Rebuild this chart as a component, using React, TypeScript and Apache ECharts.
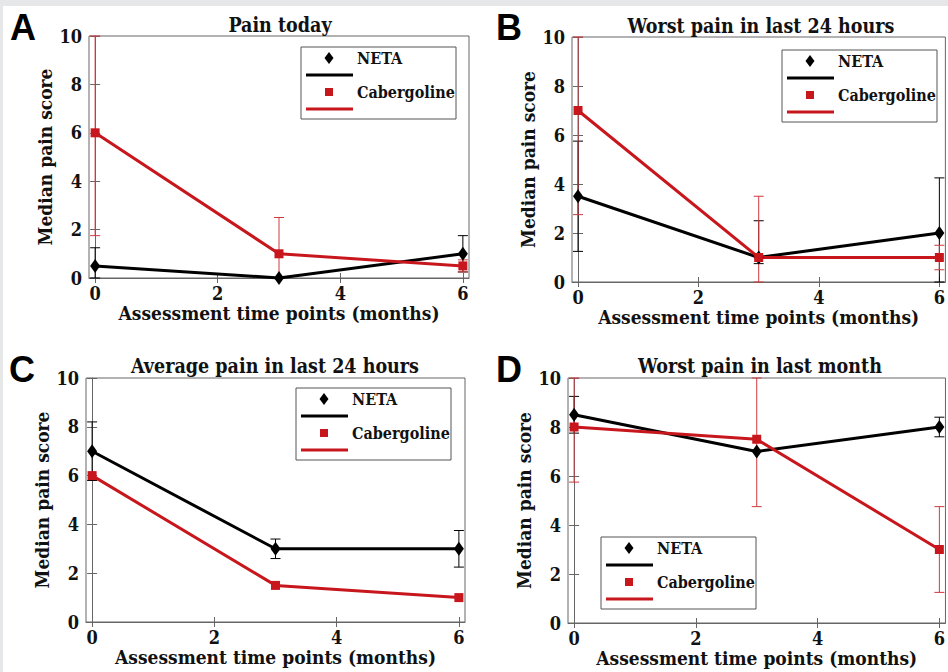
import React, { useEffect, useRef } from "react";
import * as echarts from "echarts";

// ---------- data ----------
const months = [0, 3, 6];
const xTicks = [0, 2, 4, 6];
const panelTitles = [
  "Pain today",
  "Worst pain in last 24 hours",
  "Average pain in last 24 hours",
  "Worst pain in last month",
];
const panelLetters = ["A", "B", "C", "D"];
const seriesNames = ["NETA", "Cabergoline"];
const xAxisName = "Assessment time points (months)";
const yAxisName = "Median pain score";

// Panel A – Pain today
const netaA = [0.5, 0, 1];
const netaALow = [0, null, 0.25];
const netaAHigh = [1.25, null, 1.75];
const cabA = [6, 1, 0.5];
const cabALow = [1.75, 0, 0.25];
const cabAHigh = [10, 2.5, 0.75];

// Panel B – Worst pain in last 24 hours
const netaB = [3.5, 1, 2];
const netaBLow = [1.25, 0.75, 0];
const netaBHigh = [5.75, 2.5, 4.25];
const cabB = [7, 1, 1];
const cabBLow = [2.75, 0, 0.5];
const cabBHigh = [10, 3.5, 1.5];

// Panel C – Average pain in last 24 hours
const netaC = [7, 3, 3];
const netaCLow = [5.8, 2.6, 2.25];
const netaCHigh = [8.2, 3.4, 3.75];
const cabC = [6, 1.5, 1];
const cabCLow = [null, null, null];
const cabCHigh = [null, null, null];

// Panel D – Worst pain in last month
const netaD = [8.5, 7, 8];
const netaDLow = [7.75, null, 7.6];
const netaDHigh = [9.25, null, 8.4];
const cabD = [8, 7.5, 3];
const cabDLow = [5.75, 4.75, 1.25];
const cabDHigh = [10, 10, 4.75];

// ---------- styling / layout ----------
const BLACK = "#000000";
const RED = "#c8161d";
const RED_ERR = "#cf3a3f";
const AXIS = "#666666";
const SERIF = "'DejaVu Serif Condensed', 'DejaVu Serif', serif";

const panelData = [
  { neta: netaA, netaLow: netaALow, netaHigh: netaAHigh, cab: cabA, cabLow: cabALow, cabHigh: cabAHigh },
  { neta: netaB, netaLow: netaBLow, netaHigh: netaBHigh, cab: cabB, cabLow: cabBLow, cabHigh: cabBHigh },
  { neta: netaC, netaLow: netaCLow, netaHigh: netaCHigh, cab: cabC, cabLow: cabCLow, cabHigh: cabCHigh },
  { neta: netaD, netaLow: netaDLow, netaHigh: netaDHigh, cab: cabD, cabLow: cabDLow, cabHigh: cabDHigh },
];

const layout = [
  { grid: { left: 89, top: 36, width: 380, height: 242 }, title: [280, 25], letter: [23, 27], legend: [301, 47] },
  { grid: { left: 572, top: 37, width: 378, height: 245 }, title: [761, 26], letter: [509, 27], legend: [782, 50] },
  { grid: { left: 86, top: 378, width: 379, height: 244 }, title: [275, 366], letter: [22, 369], legend: [296, 388] },
  { grid: { left: 568, top: 378, width: 382, height: 245 }, title: [760, 366], letter: [509, 369], legend: [601, 537] },
];

function errData(low: (number | null)[], high: (number | null)[]) {
  const out: number[][] = [];
  months.forEach((m, i) => {
    const lo = low[i];
    const hi = high[i];
    if (lo !== null && hi !== null) out.push([m, lo, hi]);
  });
  return out;
}

function errSeries(data: number[][], color: string, idx: number) {
  return {
    type: "custom",
    xAxisIndex: idx * 2,
    yAxisIndex: idx * 2,
    clip: false,
    silent: true,
    encode: { x: 0, y: [1, 2] },
    data,
    renderItem: (_params: any, api: any) => {
      const x = api.value(0);
      const lo = api.coord([x, api.value(1)]);
      const hi = api.coord([x, api.value(2)]);
      const w = 5;
      const style = { stroke: color, lineWidth: 1, fill: "none" };
      return {
        type: "group",
        children: [
          { type: "line", shape: { x1: lo[0], y1: lo[1], x2: hi[0], y2: hi[1] }, style },
          { type: "line", shape: { x1: lo[0] - w, y1: lo[1], x2: lo[0] + w, y2: lo[1] }, style },
          { type: "line", shape: { x1: hi[0] - w, y1: hi[1], x2: hi[0] + w, y2: hi[1] }, style },
        ],
      };
    },
  };
}

function lineSeries(name: string, values: number[], color: string, symbol: string, size: any, idx: number) {
  return {
    type: "line",
    name,
    xAxisIndex: idx * 2,
    yAxisIndex: idx * 2,
    clip: false,
    data: months.map((m, i) => [m, values[i]]),
    symbol,
    symbolSize: size,
    showSymbol: true,
    lineStyle: { color, width: 3 },
    itemStyle: { color, borderWidth: 0 },
  };
}

function legendGroup(x0: number, y0: number) {
  const textStyle = { fill: "#111", font: `bold 16px ${SERIF}`, textVerticalAlign: "middle" };
  return {
    type: "group",
    x: x0,
    y: y0,
    z: 100,
    children: [
      { type: "rect", shape: { x: 0, y: 0, width: 155, height: 72 }, style: { fill: "#ffffff", stroke: "#555", lineWidth: 1 } },
      { type: "polygon", shape: { points: [[28, 5], [32.5, 11], [28, 17], [23.5, 11]] }, style: { fill: BLACK } },
      { type: "text", x: 56, y: 11, style: { ...textStyle, text: seriesNames[0] } },
      { type: "line", shape: { x1: 5, y1: 28, x2: 52, y2: 28 }, style: { stroke: BLACK, lineWidth: 3 } },
      { type: "rect", shape: { x: 24, y: 41, width: 8, height: 8 }, style: { fill: RED } },
      { type: "text", x: 56, y: 45, style: { ...textStyle, text: seriesNames[1] } },
      { type: "line", shape: { x1: 5, y1: 62, x2: 52, y2: 62 }, style: { stroke: RED, lineWidth: 3 } },
    ],
  };
}

function buildOption() {
  const grids: any[] = [];
  const xAxes: any[] = [];
  const yAxes: any[] = [];
  const series: any[] = [];
  const graphics: any[] = [
    { type: "rect", shape: { x: 0, y: 0, width: 948, height: 6 }, style: { fill: "#e6e7e9" }, z: -10 },
    { type: "rect", shape: { x: 0, y: 0, width: 3, height: 672 }, style: { fill: "#e6e7e9" }, z: -10 },
  ];

  layout.forEach((l, i) => {
    grids.push({ ...l.grid, show: true, borderColor: AXIS, borderWidth: 1, backgroundColor: "#fff" });
    const labelStyle = { color: "#111", fontFamily: SERIF, fontSize: 18, fontWeight: "bold" };
    const nameStyle = { ...labelStyle, fontSize: 19 };
    xAxes.push({
      type: "value",
      gridIndex: i,
      min: -0.1,
      max: 6.1,
      position: "bottom",
      name: xAxisName,
      nameLocation: "middle",
      nameGap: 25,
      nameTextStyle: nameStyle,
      axisLine: { show: true, lineStyle: { color: AXIS, width: 1 } },
      axisTick: { show: true, inside: true, length: 5, customValues: xTicks, lineStyle: { color: AXIS } },
      axisLabel: { show: true, customValues: xTicks, margin: 6, ...labelStyle },
      splitLine: { show: false },
    });
    xAxes.push({
      type: "value",
      gridIndex: i,
      min: -0.1,
      max: 6.1,
      position: "top",
      axisLine: { show: false },
      axisTick: { show: true, inside: true, length: 5, customValues: xTicks, lineStyle: { color: AXIS } },
      axisLabel: { show: false },
      splitLine: { show: false },
    });
    yAxes.push({
      type: "value",
      gridIndex: i,
      min: 0,
      max: 10,
      interval: 2,
      position: "left",
      name: yAxisName,
      nameLocation: "middle",
      nameGap: 35,
      nameTextStyle: nameStyle,
      axisLine: { show: true, lineStyle: { color: AXIS, width: 1 } },
      axisTick: { show: true, inside: true, length: 5, lineStyle: { color: AXIS } },
      axisLabel: { show: true, margin: 7, ...labelStyle },
      splitLine: { show: false },
    });
    yAxes.push({
      type: "value",
      gridIndex: i,
      min: 0,
      max: 10,
      interval: 2,
      position: "right",
      axisLine: { show: false },
      axisTick: { show: true, inside: true, length: 5, lineStyle: { color: AXIS } },
      axisLabel: { show: false },
      splitLine: { show: false },
    });

    const d = panelData[i];
    series.push(errSeries(errData(d.netaLow, d.netaHigh), BLACK, i));
    series.push(lineSeries(seriesNames[0], d.neta, BLACK, "diamond", [10, 14], i));
    series.push(errSeries(errData(d.cabLow, d.cabHigh), RED_ERR, i));
    series.push(lineSeries(seriesNames[1], d.cab, RED, "rect", 9, i));

    graphics.push({
      type: "text",
      x: l.title[0],
      y: l.title[1],
      style: { text: panelTitles[i], fill: "#111", font: `bold 19.5px ${SERIF}`, textAlign: "center", textVerticalAlign: "middle" },
    });
    graphics.push({
      type: "text",
      x: l.letter[0],
      y: l.letter[1],
      style: { text: panelLetters[i], fill: "#000", font: `bold 36px 'Liberation Sans', Arial, sans-serif`, textAlign: "center", textVerticalAlign: "middle" },
    });
    graphics.push(legendGroup(l.legend[0], l.legend[1]));
  });

  return {
    animation: false,
    backgroundColor: "#ffffff",
    grid: grids,
    xAxis: xAxes,
    yAxis: yAxes,
    series,
    graphic: graphics,
  };
}

export default function App() {
  const ref = useRef<HTMLDivElement>(null);
  useEffect(() => {
    if (!ref.current) return;
    const chart = echarts.init(ref.current, undefined, { renderer: "svg" });
    chart.setOption(buildOption() as any);
    return () => chart.dispose();
  }, []);
  return (
    <div
      ref={ref}
      style={{ position: "fixed", left: 0, top: 0, width: 948, height: 672, background: "#fff" }}
    />
  );
}
